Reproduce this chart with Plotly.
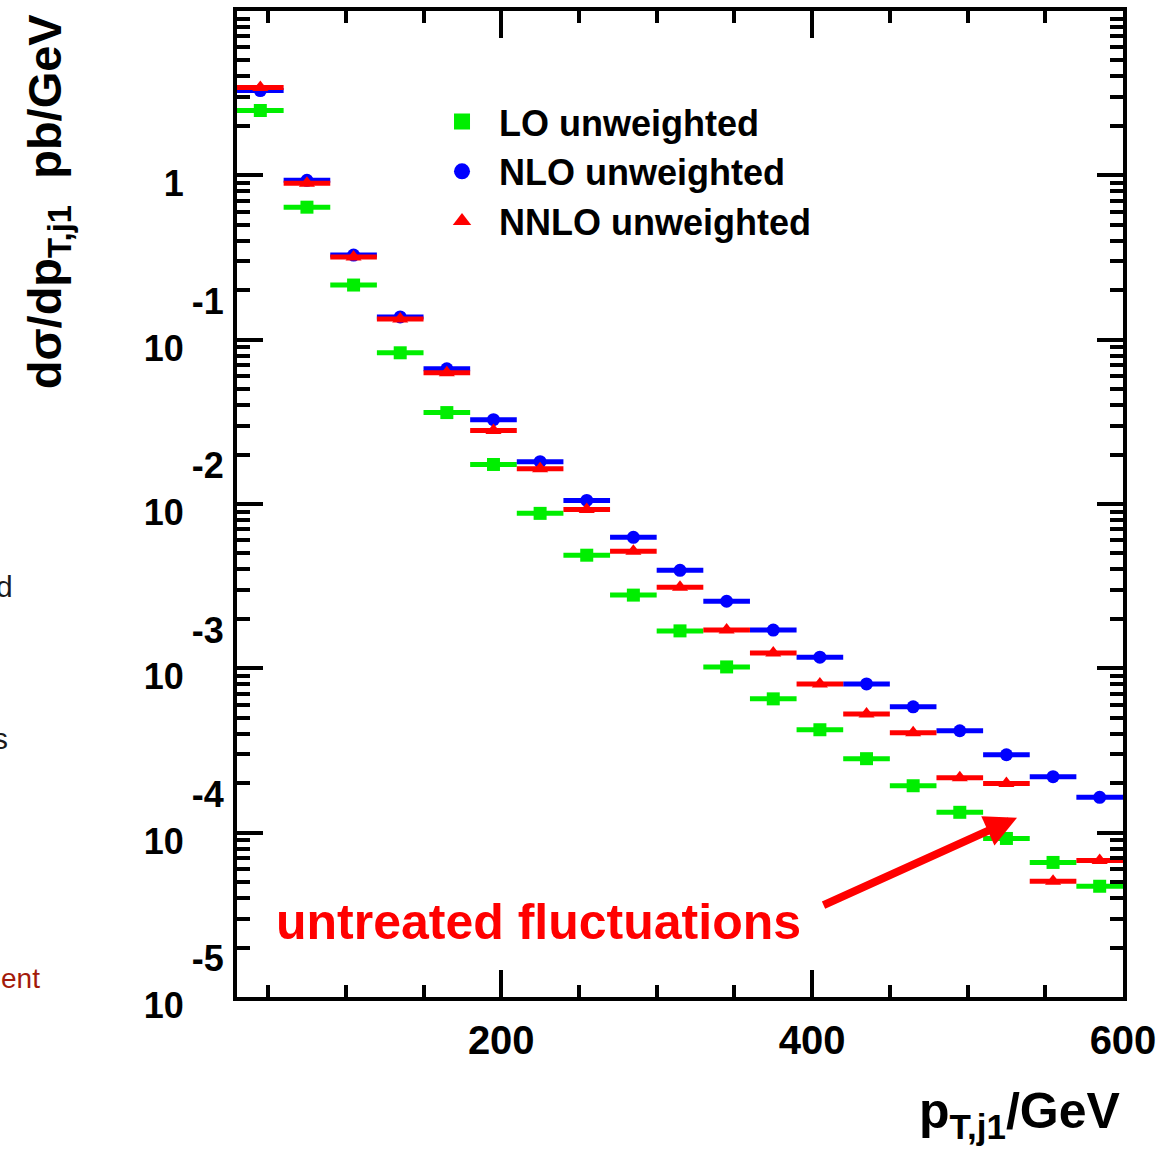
import plotly.graph_objects as go

# ---------------- data ----------------
pt_centers = [45, 75, 105, 135, 165, 195, 225, 255, 285, 315,
              345, 375, 405, 435, 465, 495, 525, 555, 585]
bin_half_width = [15] * 19

lo_unweighted = [2.48, 0.640, 0.215, 0.0832, 0.0360, 0.0174, 0.00877, 0.00488,
                 0.00279, 0.00169, 0.00102, 0.000652, 0.000423, 0.000282,
                 0.000193, 0.000133, 0.0000922, 0.0000659, 0.0000472]
nlo_unweighted = [3.28, 0.933, 0.327, 0.1375, 0.0665, 0.0326, 0.0181, 0.01051,
                  0.00627, 0.00395, 0.00256, 0.00171, 0.00117, 0.000804,
                  0.000583, 0.000417, 0.000298, 0.000219, 0.000164]
nnlo_unweighted = [3.42, 0.894, 0.318, 0.1337, 0.0629, 0.0280, 0.0164, 0.00927,
                   0.00516, 0.00312, 0.00171, 0.00124, 0.000804, 0.000528,
                   0.000406, 0.000216, 0.000199, 0.0000506, 0.0000678]

series_names = ["LO unweighted", "NLO unweighted", "NNLO unweighted"]

x_tick_vals = [200, 400, 600]
x_tick_text = ["200", "400", "600"]
x_minor_vals = [50, 100, 150, 250, 300, 350, 450, 500, 550]

y_tick_vals = [1e-5, 1e-4, 1e-3, 1e-2, 1e-1, 1]
y_exponents = ["-5", "-4", "-3", "-2", "-1", ""]
y_minor_vals = [m * 10.0 ** k for k in range(-5, 1) for m in range(2, 10)]

# ---------------- style ----------------
FONT = "Liberation Sans, Arial, Helvetica, sans-serif"
GREEN, BLUE, RED = "#00ee00", "#0000ff", "#ff0000"
NB = "&#160;"

def y_label(exp):
    # ROOT-style label: exponent raised above and to the right of the base
    if exp == "":
        return NB + "<br>1" + NB * 4
    return NB + exp + "<br>10" + NB * 4

y_tick_text = [y_label(e) for e in y_exponents]

fig = go.Figure()

styles = [
    (lo_unweighted, GREEN, "square", 13, "legend"),
    (nlo_unweighted, BLUE, "circle", 13, "legend2"),
    (nnlo_unweighted, RED, "triangle-up", 14, "legend3"),
]
for name, (vals, col, sym, size, leg) in zip(series_names, styles):
    fig.add_trace(go.Scatter(
        x=pt_centers, y=vals, mode="markers", name=name,
        marker=dict(symbol=sym, size=size, color=col, line=dict(width=0)),
        error_x=dict(type="data", array=bin_half_width, symmetric=True,
                     color=col, thickness=5, width=0),
        showlegend=False, cliponaxis=False,
    ))
    # legend entry with the larger legend symbol
    fig.add_trace(go.Scatter(
        x=[None], y=[None], mode="markers", name=name,
        marker=dict(symbol=sym, size=16, color=col, line=dict(width=0)),
        legend=leg, showlegend=True,
    ))

axis_common = dict(
    showline=True, linewidth=4, linecolor="black", mirror="allticks",
    ticks="inside", tickwidth=4, tickcolor="black",
    showgrid=False, zeroline=False,
)

fig.update_xaxes(
    range=[30, 600], tickmode="array", tickvals=x_tick_vals, ticktext=x_tick_text,
    ticklen=27, tickfont=dict(family=FONT, size=40, color="black", weight="bold"),
    ticklabelstandoff=5,
    minor=dict(tickmode="array", tickvals=x_minor_vals, ticks="inside",
               ticklen=12, tickwidth=4, tickcolor="black", showgrid=False),
    **axis_common,
)
fig.update_yaxes(
    type="log", range=[-5, 1], tickmode="array", tickvals=y_tick_vals,
    ticktext=y_tick_text, ticklen=26,
    tickfont=dict(family=FONT, size=36, color="black", weight="bold"),
    ticklabelshift=-15, ticklabelstandoff=2,
    minor=dict(tickmode="array", tickvals=y_minor_vals, ticks="inside",
               ticklen=13, tickwidth=4, tickcolor="black", showgrid=False),
    **axis_common,
)

legend_font = dict(family=FONT, size=36, color="black", weight="bold")
leg_common = dict(bgcolor="rgba(0,0,0,0)", borderwidth=0, font=legend_font,
                  xanchor="left", yanchor="middle", itemwidth=64)
fig.update_layout(
    width=1163, height=1150,
    margin=dict(l=237, r=40, t=7, b=153),
    plot_bgcolor="white", paper_bgcolor="white",
    showlegend=True,
    legend=dict(x=0.2122, y=0.8878, **leg_common),
    legend2=dict(x=0.2122, y=0.8373, **leg_common),
    legend3=dict(x=0.2122, y=0.7868, **leg_common),
)

annotations = [
    # y-axis title (ROOT style, aligned to top)
    dict(text="dσ/dp<sub>T,j1</sub>  pb/GeV", xref="paper", yref="paper",
         x=-0.213, y=1.0, xanchor="center", yanchor="top", textangle=-90,
         showarrow=False, font=dict(family=FONT, size=47, color="black", weight="bold")),
    # x-axis title (aligned to right)
    dict(text="p<sub>T,j1</sub>/GeV", xref="paper", yref="paper",
         x=1.0, y=-0.085, xanchor="right", yanchor="top",
         showarrow=False, font=dict(family=FONT, size=50, color="black", weight="bold")),
    # red label
    dict(text="untreated fluctuations", xref="paper", yref="paper",
         x=0.34, y=0.0758, xanchor="center", yanchor="middle",
         showarrow=False, font=dict(family=FONT, size=50, color=RED, weight="bold")),
    # red arrow
    dict(text="", xref="paper", yref="paper", x=0.8804, y=0.1818,
         ax=-195, ay=88, axref="pixel", ayref="pixel", showarrow=True,
         arrowhead=2, arrowsize=0.8, arrowwidth=8, arrowcolor=RED),
    # cut-off slide text on the far left
    dict(text="d", xref="paper", yref="paper", x=-0.2505, y=0.416,
         xanchor="right", yanchor="middle", showarrow=False,
         font=dict(family=FONT, size=30, color="#1a1a1a")),
    dict(text="s", xref="paper", yref="paper", x=-0.2565, y=0.2626,
         xanchor="right", yanchor="middle", showarrow=False,
         font=dict(family=FONT, size=30, color="#1a1a1a")),
    dict(text="ent", xref="paper", yref="paper", x=-0.22, y=0.0192,
         xanchor="right", yanchor="middle", showarrow=False,
         font=dict(family=FONT, size=28, color="#a31a0a")),
]
fig.update_layout(annotations=annotations)

fig.write_html("out.html")
